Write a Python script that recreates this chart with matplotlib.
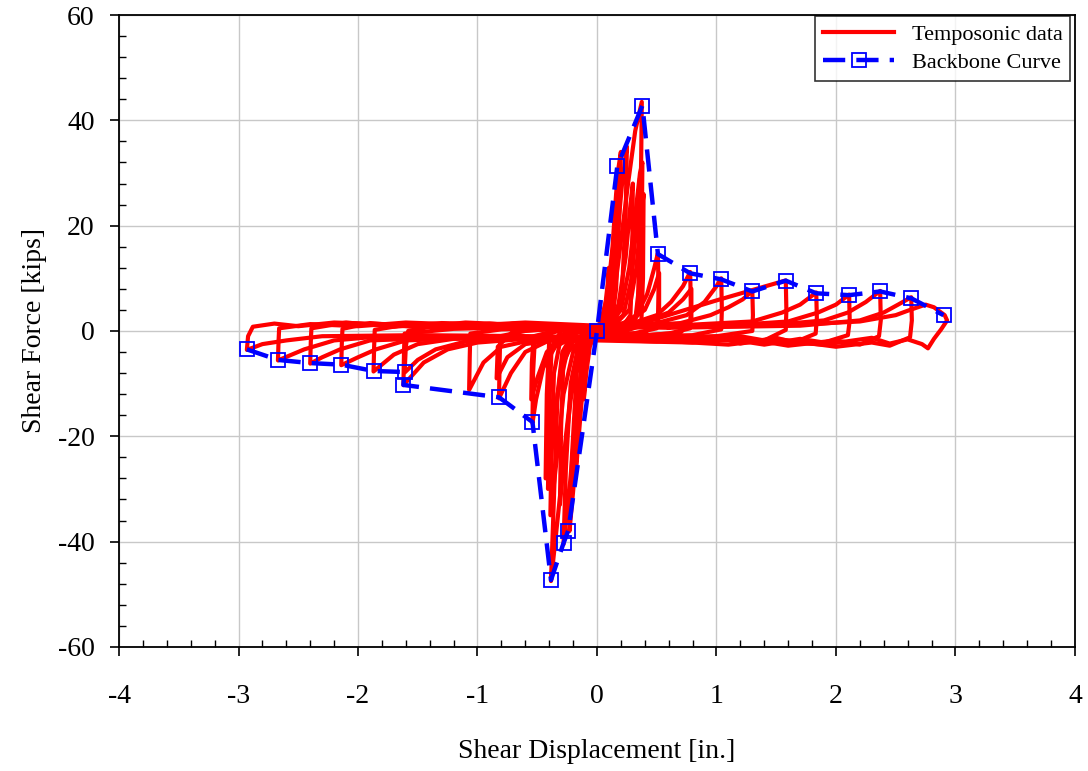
import matplotlib
matplotlib.use('Agg')
import matplotlib.pyplot as plt
from matplotlib.ticker import MultipleLocator

plt.rcParams['font.family'] = ['Liberation Serif', 'DejaVu Serif']
plt.rcParams['axes.unicode_minus'] = False

# backbone curve points (displacement in., force kips)
backbone_x = [-2.93, -2.67, -2.40, -2.14, -1.87, -1.61, -1.62, -0.82, -0.54, -0.385, -0.28, -0.24,
              0.0, 0.17, 0.38, 0.51, 0.78, 1.04, 1.30, 1.58, 1.835, 2.11, 2.37, 2.63, 2.90]
backbone_y = [-3.5, -5.5, -6.1, -6.4, -7.6, -7.8, -10.25, -12.6, -17.3, -47.3, -40.3, -37.9,
              0.0, 31.3, 42.8, 14.6, 10.95, 9.8, 7.5, 9.55, 7.15, 6.8, 7.5, 6.2, 3.0]

# temposonic record, one list per load cycle (x, y)
cycles = [
    [(0.0, 0.0), (0.04, 2), (0.07, 5), (0.09, 9), (0.10, 12), (0.09, 6), (0.07, 1), (0.03, 0.3),
     (-0.02, -0.5), (-0.06, -3), (-0.09, -8), (-0.11, -13), (-0.10, -6), (-0.08, -1), (-0.03, 0)],
    [(-0.03, 0), (0.03, 1), (0.08, 5), (0.12, 12), (0.15, 20), (0.17, 25), (0.15, 14), (0.12, 3),
     (0.06, 0.3), (-0.02, -0.5), (-0.07, -3), (-0.12, -11), (-0.16, -22), (-0.18, -28),
     (-0.16, -15), (-0.12, -3), (-0.05, -0.2)],
    [(-0.05, 0), (0.03, 1.5), (0.09, 7), (0.13, 16), (0.16, 26), (0.18, 31), (0.20, 34), (0.19, 24),
     (0.16, 8), (0.12, 1), (0.05, 0.2), (-0.03, -0.8), (-0.10, -5), (-0.15, -16), (-0.19, -28),
     (-0.23, -38), (-0.21, -24), (-0.17, -8), (-0.10, -0.8), (0, 0)],
    [(0, 0), (0.06, 1.5), (0.12, 7), (0.17, 18), (0.21, 28), (0.25, 35), (0.24, 22), (0.21, 8),
     (0.15, 1), (0.05, 0), (-0.05, -1), (-0.12, -5), (-0.18, -17), (-0.23, -30), (-0.28, -40.5),
     (-0.26, -26), (-0.22, -10), (-0.14, -1), (-0.02, 0.2)],
    [(-0.02, 0.2), (0.10, 1.5), (0.18, 5), (0.24, 14), (0.28, 24), (0.30, 28), (0.295, 14),
     (0.28, 3), (0.20, 0.3), (0, -0.6), (-0.12, -2.5), (-0.20, -8), (-0.26, -20), (-0.31, -33),
     (-0.30, -18), (-0.28, -5), (-0.20, -0.5), (-0.02, 0.2)],
    [(-0.02, 0.2), (0.08, 2), (0.15, 8), (0.20, 17), (0.26, 28), (0.32, 38), (0.375, 43.5),
     (0.37, 33), (0.36, 20), (0.35, 8), (0.32, 2), (0.20, 0.3), (0.05, -0.3), (-0.08, -1.5),
     (-0.16, -5), (-0.22, -13), (-0.28, -25), (-0.34, -38), (-0.385, -47.5), (-0.37, -38),
     (-0.35, -25), (-0.33, -12), (-0.29, -4), (-0.20, -0.5), (-0.05, 0.3)],
    [(-0.05, 0.3), (0.10, 1), (0.20, 4), (0.27, 12), (0.32, 22), (0.36, 30), (0.38, 32),
     (0.375, 20), (0.36, 6), (0.30, 0.8), (0.10, -0.5), (-0.10, -1.5), (-0.20, -4), (-0.28, -12),
     (-0.34, -25), (-0.39, -35), (-0.38, -22), (-0.36, -8), (-0.30, -1), (-0.10, 0.3)],
    [(-0.10, 0.3), (0.10, 0.8), (0.22, 3), (0.29, 10), (0.33, 20), (0.36, 29), (0.355, 15),
     (0.34, 3), (0.25, 0.2), (0.0, -0.8), (-0.20, -2), (-0.30, -7), (-0.36, -18), (-0.41, -30),
     (-0.40, -15), (-0.38, -3), (-0.30, 0), (0, 0.5)],
    [(0, 0.5), (0.15, 1.2), (0.27, 4), (0.33, 12), (0.37, 22), (0.39, 26), (0.385, 10), (0.37, 1),
     (0.20, -0.3), (-0.10, -1.2), (-0.25, -4), (-0.33, -12), (-0.38, -22), (-0.43, -28),
     (-0.42, -12), (-0.40, -2), (-0.20, 0.3), (0, 0.5)],
    [(0, 0.5), (0.20, 1.2), (0.33, 3), (0.42, 7), (0.48, 12), (0.51, 14.8), (0.515, 8), (0.51, 1.5),
     (0.40, -0.3), (0.10, -0.8), (-0.20, -1.2), (-0.35, -3), (-0.45, -7), (-0.51, -13),
     (-0.54, -17.5), (-0.535, -8), (-0.52, -1.5), (-0.30, 0.2), (0, 0.6)],
    [(0, 0.6), (0.25, 1.5), (0.40, 4), (0.48, 8), (0.52, 11), (0.52, 4), (0.50, 0.5), (0.30, -0.5),
     (0, -1), (-0.30, -1.5), (-0.42, -4), (-0.50, -9), (-0.55, -13), (-0.545, -6), (-0.53, -1),
     (-0.30, 0.3), (0, 0.8)],
    [(0, 0.8), (0.30, 1.5), (0.50, 3), (0.62, 5.5), (0.72, 8.5), (0.78, 11.2), (0.785, 5),
     (0.78, 0.5), (0.60, -0.5), (0.30, -1), (0, -1.2), (-0.40, -1.8), (-0.60, -4), (-0.72, -8),
     (-0.82, -12.8), (-0.815, -6), (-0.81, -1), (-0.60, 0), (-0.30, 0.5), (0, 1)],
    [(0, 1), (0.40, 1.8), (0.60, 3.5), (0.72, 6), (0.79, 8), (0.79, 2), (0.70, -0.3), (0.30, -1),
     (-0.30, -1.5), (-0.60, -2.5), (-0.75, -5), (-0.84, -9), (-0.83, -3), (-0.70, 0), (0, 0.7)],
    [(0, 0.7), (0.50, 1.5), (0.75, 3), (0.90, 5.5), (1.00, 8.5), (1.04, 10), (1.045, 4), (1.04, 0.3),
     (0.80, -0.8), (0.40, -1), (0, -1.3), (-0.50, -1.5), (-0.80, -3), (-0.95, -6), (-1.07, -11.2),
     (-1.065, -5), (-1.06, -0.5), (-0.80, 0.3), (-0.30, 0.6), (0.20, 0.8)],
    [(0.20, 0.8), (0.70, 1.5), (0.95, 3), (1.10, 4.5), (1.22, 6), (1.30, 7.6), (1.305, 3), (1.30, 0),
     (1.00, -1), (0.50, -1.2), (0, -1.5), (-0.60, -1.5), (-1.00, -2.2), (-1.25, -3.5), (-1.45, -6),
     (-1.62, -10.3), (-1.615, -4), (-1.61, -0.5), (-1.20, 0.4), (-0.50, 0.8), (0.20, 1)],
    [(0.20, 1), (0.45, 2), (1.00, 5.8), (1.58, 9.6), (1.585, 4), (1.58, 0.2), (1.40, -1.8),
     (1.20, -1), (0.90, -2), (0.60, -1.5), (0, -1.3), (-0.60, -1.4), (-1.10, -2), (-1.35, -3.5),
     (-1.50, -5.5), (-1.61, -7.9), (-1.60, -3), (-1.58, 0), (-1.30, 1.2), (-1.00, 0.5),
     (-0.70, 1.4), (0, 0.7)],
    [(0, 0.7), (0.80, 1.2), (1.30, 1.8), (1.55, 3.5), (1.70, 5), (1.835, 7.3), (1.84, 2.5),
     (1.83, -0.5), (1.65, -2.2), (1.50, -1.3), (1.20, -2.4), (1.00, -1), (0.60, -2), (0.30, -1.5),
     (-0.50, -1.2), (-1.20, -1.5), (-1.50, -2.5), (-1.70, -4.5), (-1.87, -7.7), (-1.865, -3),
     (-1.86, 0.2), (-1.60, 1.2), (-1.30, 0.6), (-0.90, 1.4), (-0.50, 0.8), (0.30, 0.9)],
    [(0.30, 0.9), (1.20, 1.2), (1.60, 1.8), (1.85, 3.5), (2.00, 5), (2.11, 6.9), (2.115, 2),
     (2.10, -0.8), (1.90, -2.2), (1.70, -1.5), (1.40, -2.6), (1.00, -1.2), (0.50, -2), (0, -1.6),
     (-1.00, -1.3), (-1.60, -1.8), (-1.85, -3.5), (-2.00, -5), (-2.14, -6.5), (-2.135, -2),
     (-2.13, 0.4), (-1.90, 1.5), (-1.50, 0.7), (-1.10, 1.6), (-0.50, 1), (0.50, 0.8)],
    [(0.50, 0.8), (1.50, 1.2), (1.90, 2), (2.10, 3.5), (2.25, 5.5), (2.37, 7.6), (2.375, 2),
     (2.36, -1), (2.20, -2.6), (2.00, -1.8), (1.60, -2.8), (1.20, -1.3), (0.80, -2.2), (0, -1.8),
     (-1.20, -1.2), (-1.90, -1.8), (-2.15, -3.5), (-2.30, -5), (-2.40, -6.2), (-2.395, -2),
     (-2.39, 0.5), (-2.10, 1.6), (-1.70, 0.8), (-1.30, 1.5), (-0.60, 1.1), (0.60, 0.6)],
    [(0.60, 0.6), (1.70, 1), (2.20, 2), (2.40, 3.5), (2.52, 5), (2.63, 6.4), (2.635, 2), (2.62, -1.2),
     (2.45, -2.8), (2.30, -2.2), (2.00, -3), (1.50, -1.5), (1.10, -2.6), (0.50, -1.8), (-0.80, -1.2),
     (-1.80, -1.0), (-2.20, -1.8), (-2.45, -3.5), (-2.67, -5.6), (-2.665, -2), (-2.66, 0.5),
     (-2.40, 1.3), (-2.00, 0.9), (-1.60, 1.6), (-1.00, 1.1), (-0.60, 1.6), (0.30, 0.7)],
    [(0.30, 0.7), (1.50, 1.0), (2.20, 1.8), (2.50, 3), (2.62, 4), (2.75, 5), (2.82, 4.5), (2.88, 3.5),
     (2.91, 3), (2.93, 2), (2.88, 0.3), (2.82, -1.5), (2.77, -3.3), (2.72, -2.5), (2.60, -1.6),
     (2.45, -2.4), (2.30, -1.3), (1.90, -2.6), (1.50, -2), (0.50, -1.5), (-0.50, -1), (-1.50, -0.8),
     (-2.30, -1), (-2.60, -1.8), (-2.80, -2.5), (-2.93, -3.6), (-2.92, -1), (-2.88, 0.8),
     (-2.70, 1.4), (-2.50, 0.9), (-2.20, 1.6), (-1.50, 1.1), (-0.50, 0.6), (0, 0)],
]

fig, ax = plt.subplots(figsize=(10.88, 7.71), dpi=100)
fig.subplots_adjust(left=0.1094, right=0.988, top=0.9805, bottom=0.161)

for i, cyc in enumerate(cycles):
    xs = [p[0] for p in cyc]
    ys = [p[1] for p in cyc]
    ax.plot(xs, ys, color='#ff0000', lw=3.0, solid_joinstyle='round',
            label='Temposonic data' if i == 0 else None, zorder=2)

ax.plot(backbone_x, backbone_y, color='#0000ff', lw=3.2, dashes=(5, 2.5),
        marker='s', markersize=10, markerfacecolor='none', markeredgecolor='#0000ff',
        markeredgewidth=1.3, label='Backbone Curve', zorder=3)

ax.set_xlim(-4, 4)
ax.set_ylim(-60, 60)
ax.xaxis.set_major_locator(MultipleLocator(1))
ax.xaxis.set_minor_locator(MultipleLocator(0.2))
ax.yaxis.set_major_locator(MultipleLocator(20))
ax.yaxis.set_minor_locator(MultipleLocator(4))
ax.tick_params(which='major', direction='out', length=6.5, width=1.2, labelsize=20,
               top=False, right=False)
ax.tick_params(axis='x', which='major', pad=20)
ax.tick_params(axis='y', which='major', pad=11)
ax.tick_params(which='minor', direction='in', length=5, width=1, top=False, right=False)
ax.grid(True, which='major', color='#c8c8c8', lw=1)
ax.set_axisbelow(True)
for s in ax.spines.values():
    s.set_linewidth(1.3)

ax.set_xlabel('Shear Displacement [in.]', fontsize=20, labelpad=22)
ax.set_ylabel('Shear Force [kips]', fontsize=20, labelpad=8)

leg = ax.legend(loc='upper right', bbox_to_anchor=(1.0, 1.005), fontsize=16, frameon=True,
                fancybox=False, edgecolor='black', borderaxespad=0.2, handlelength=3.2,
                labelspacing=0.35, borderpad=0.35)
leg.get_frame().set_linewidth(1.2)

fig.savefig('out.png', dpi=100)
